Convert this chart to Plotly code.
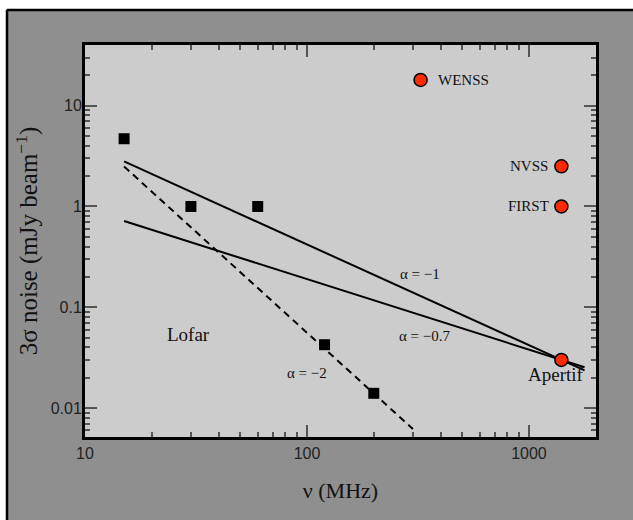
import numpy as np
import plotly.graph_objects as go

# ---- data ----
lofar_freq = [15, 30, 60, 120, 200]          # MHz
lofar_noise = [4.7, 1.0, 1.0, 0.0425, 0.014]  # mJy/beam (3 sigma)

survey_names = ["WENSS", "NVSS", "FIRST", "Apertif"]
survey_freq = [325, 1400, 1400, 1400]
survey_noise = [18, 2.5, 1.0, 0.030]

# power-law guide lines (end points)
line_a1_freq = [15, 1780]
line_a1_noise = [2.8, 0.0236]
line_a07_freq = [15, 1780]
line_a07_noise = [0.717, 0.0254]
line_a2_freq = [15, 300]
line_a2_noise = [2.49, 0.0062]

x_ticks = [10, 100, 1000]
x_ticktext = ["10", "100", "1000"]
y_ticks = [0.01, 0.1, 1, 10]
y_ticktext = ["0.01", "0.1", "1", "10"]

W, H = 633, 520
L, R, T, B = 85, 37, 45, 83
PW, PH = W - L - R, H - T - B


def xp(px):
    return (px - L) / PW


def yp(py):
    return (H - B - py) / PH


serif = "Liberation Serif"

fig = go.Figure()

fig.add_trace(go.Scatter(x=line_a1_freq, y=line_a1_noise, mode="lines",
                         line=dict(color="black", width=2), hoverinfo="skip"))
fig.add_trace(go.Scatter(x=line_a07_freq, y=line_a07_noise, mode="lines",
                         line=dict(color="black", width=2), hoverinfo="skip"))
fig.add_trace(go.Scatter(x=line_a2_freq, y=line_a2_noise, mode="lines",
                         line=dict(color="black", width=2, dash="7px,5px"),
                         hoverinfo="skip"))
fig.add_trace(go.Scatter(x=lofar_freq, y=lofar_noise, mode="markers",
                         marker=dict(symbol="square", size=11, color="black")))
fig.add_trace(go.Scatter(x=survey_freq, y=survey_noise, mode="markers",
                         marker=dict(symbol="circle", size=13, color="#ff2a00",
                                     line=dict(color="black", width=1.5))))

minor_x = [m * d for d in (10, 100, 1000) for m in range(2, 10) if m * d <= 2000]
minor_y = [m * d for d in (0.001, 0.01, 0.1, 1, 10) for m in range(2, 10)
           if 0.005 <= m * d <= 40]

axis_common = dict(
    type="log", showgrid=False, zeroline=False,
    showline=True, linecolor="black", linewidth=3, mirror="allticks",
    ticks="inside", ticklen=12, tickwidth=1.5, tickcolor="#555",
    tickfont=dict(family="Liberation Sans", size=16, color="#222"),
    tickmode="array",
)

fig.update_xaxes(
    **axis_common,
    range=[1, np.log10(2005)],
    tickvals=x_ticks, ticktext=x_ticktext,
    minor=dict(tickmode="array", tickvals=minor_x, ticks="inside",
               ticklen=5, tickwidth=1.5, tickcolor="#555"),
    title=dict(text="ν (MHz)", font=dict(family=serif, size=22, color="#111"),
               standoff=22),
)
fig.update_yaxes(
    **axis_common,
    range=[np.log10(0.00516), np.log10(40)],
    tickvals=y_ticks, ticktext=y_ticktext,
    ticklabelstandoff=-3,
    minor=dict(tickmode="array", tickvals=minor_y, ticks="inside",
               ticklen=5, tickwidth=1.5, tickcolor="#555"),
    title=dict(text="3σ noise (mJy beam<sup>−1</sup>)",
               font=dict(family=serif, size=25, color="#111"), standoff=6),
)

ann = []
lab_font = dict(family=serif, size=15, color="#111")
big_font = dict(family=serif, size=19, color="#111")
# survey labels relative to their markers
ann.append(dict(x=np.log10(survey_freq[0]), y=np.log10(survey_noise[0]), text="WENSS",
                xanchor="left", xshift=15, showarrow=False, font=lab_font))
ann.append(dict(x=np.log10(survey_freq[1]), y=np.log10(survey_noise[1]), text="NVSS",
                xanchor="right", xshift=-11, showarrow=False, font=lab_font))
ann.append(dict(x=np.log10(survey_freq[2]), y=np.log10(survey_noise[2]), text="FIRST",
                xanchor="right", xshift=-10, showarrow=False, font=lab_font))
ann.append(dict(x=np.log10(survey_freq[3]), y=np.log10(survey_noise[3]), text="Apertif",
                xanchor="center", xshift=-5, yshift=-15, showarrow=False, font=big_font))
# free labels
ann.append(dict(x=2.5086, y=-0.668, text="α = −1", showarrow=False, font=lab_font))
ann.append(dict(x=2.532, y=-1.289, text="α = −0.7", showarrow=False, font=lab_font))
ann.append(dict(x=2.0014, y=-1.652, text="α = −2", showarrow=False, font=lab_font))
ann.append(dict(x=1.468, y=-1.266, text="Lofar", showarrow=False, font=big_font))

shapes = [
    # white strips outside the grey panel
    dict(type="rect", xref="paper", yref="paper", x0=xp(-5), x1=xp(W + 5),
         y0=yp(9), y1=yp(-5), fillcolor="white", line=dict(width=0), layer="above"),
    dict(type="rect", xref="paper", yref="paper", x0=xp(-5), x1=xp(6),
         y0=yp(H + 5), y1=yp(-5), fillcolor="white", line=dict(width=0), layer="above"),
    # black border of grey panel
    dict(type="line", xref="paper", yref="paper", x0=xp(7), x1=xp(W + 5),
         y0=yp(10), y1=yp(10), line=dict(color="black", width=2.5), layer="above"),
    dict(type="line", xref="paper", yref="paper", x0=xp(7), x1=xp(7),
         y0=yp(10), y1=yp(H + 5), line=dict(color="black", width=2.5), layer="above"),
]

fig.update_layout(
    width=W, height=H,
    margin=dict(l=L, r=R, t=T, b=B, autoexpand=False),
    paper_bgcolor="#8f8f8f", plot_bgcolor="#cccccc",
    showlegend=False,
    annotations=ann, shapes=shapes,
)

fig.write_html("out.html")
